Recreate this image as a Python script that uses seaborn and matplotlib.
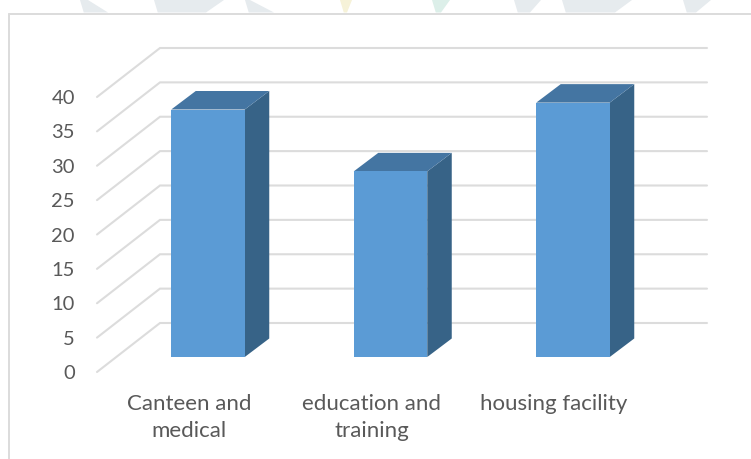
import numpy as np
import pandas as pd
import seaborn as sns
import matplotlib.pyplot as plt
from matplotlib.lines import Line2D
from matplotlib.patches import Polygon

# wartosci
categories = ["Canteen and\nmedical", "education and\ntraining", "housing facility"]
values = [36, 27, 37]
y_ticks = [0, 5, 10, 15, 20, 25, 30, 35, 40]

W, H = 751, 459
sns.set_theme(style="white")
plt.rcParams["font.family"] = ["Lato", "DejaVu Sans"]

GRID = "#dcdcdc"
TEXT = "#595959"
FRONT = "#5b9bd5"
TOP = "#4475a2"
SIDE = "#376387"

# geometria w pikselach
left, right, bottom, top = 97, 707, 372, 48
px_per_unit = 6.875
px_per_cat = 182.5
wall_dx, wall_dy = 63, 49       # glebokosc scian
bar_dx, bar_dy = 24.5, 18.5     # glebokosc slupkow
base_lift = 15                  # podstawa slupkow nad przodem osi
first_bar = 208

fig = plt.figure(figsize=(W / 100, H / 100), dpi=100)
ax = fig.add_axes([left / W, 1 - bottom / H, (right - left) / W, (bottom - top) / H])

df = pd.DataFrame({"category": categories, "value": values})
sns.barplot(data=df, x="category", y="value", color=FRONT, saturation=1,
            width=73.5 / px_per_cat, linewidth=0, ax=ax, zorder=3)

ax.set_xlim((left - first_bar) / px_per_cat, (right - first_bar) / px_per_cat)
lift = base_lift / px_per_unit
ax.set_ylim(-lift, (bottom - top) / px_per_unit - lift)

# sciany wykresu
ddx = wall_dx / px_per_cat
ddy = wall_dy / px_per_unit
x0 = ax.get_xlim()[0]
x1 = ax.get_xlim()[1]
for t in y_ticks:
    y = t - lift
    ax.plot([x0, x0 + ddx, x1], [y, y + ddy, y + ddy], color=GRID, lw=1.5,
            clip_on=False, zorder=1, solid_joinstyle="miter")

# boki i gora slupkow
bx = bar_dx / px_per_cat
by = bar_dy / px_per_unit
for p in ax.patches:
    xa, xb = p.get_x(), p.get_x() + p.get_width()
    h = p.get_height()
    ax.fill([xb, xb + bx, xb + bx, xb], [0, by, h + by, h], color=SIDE, lw=0, zorder=2)
    ax.fill([xa, xa + bx, xb + bx, xb], [h, h + by, h + by, h], color=TOP, lw=0, zorder=2)

# osie
ax.set_yticks([t - lift for t in y_ticks], labels=[str(t) for t in y_ticks])
ax.set_xticks(np.arange(len(categories)) - 19 / px_per_cat, labels=categories)
ax.tick_params(axis="y", length=0, pad=16, labelsize=14.5, labelcolor=TEXT)
ax.tick_params(axis="x", length=0, pad=16, labelsize=16, labelcolor=TEXT)
for lab in ax.get_xticklabels():
    lab.set_linespacing(1.45)
ax.set_xlabel("")
ax.set_ylabel("")
sns.despine(ax=ax, left=True, bottom=True)
ax.patch.set_alpha(0)

# resztki znaku wodnego nad ramka
scraps = [(80, 88, 108, "#e6ebee"), (154, 224, 206, "#e6ebee"), (245, 250, 274, "#e6ebee"),
          (340, 352, 347, "#f6f2d8"), (432, 450, 441, "#dcefe9"), (514, 541, 530, "#e6ebee"),
          (562, 632, 615, "#e6ebee"), (683, 711, 696, "#e6ebee")]
for xa, xb, xc, col in scraps:
    fig.add_artist(Polygon([(xa / W, 1), (xb / W, 1), (xc / W, 1 - 12.5 / H), (xa / W + 0.005, 1 - 12.5 / H)],
                           closed=True, color=col, lw=0, transform=fig.transFigure))

# ramka
fig.add_artist(Line2D([9 / W, 1], [1 - 13.5 / H, 1 - 13.5 / H], color=GRID, lw=1.4))
fig.add_artist(Line2D([9 / W, 9 / W], [0, 1 - 13.5 / H], color=GRID, lw=1.4))

fig.savefig("out.png", dpi=100)
